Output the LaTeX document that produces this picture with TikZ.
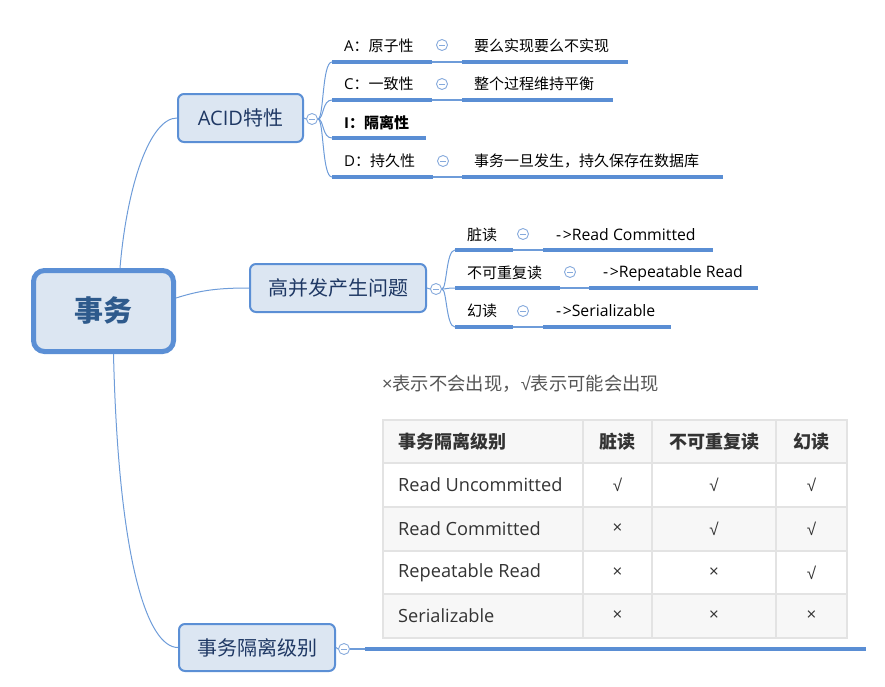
\documentclass[tikz,border=0pt]{standalone}
\usepackage{fontspec}
\setmainfont{Noto Sans CJK SC}
\newfontfamily\cjk{Noto Sans CJK SC}
\newfontfamily\osans{Open Sans}
\newfontfamily\lsans{Liberation Sans}
\newcommand{\ck}{{\lsans √}}
\newcommand{\cx}{{\osans ×}}
\definecolor{nodefill}{HTML}{DCE6F2}
\definecolor{nodeline}{HTML}{5B8FD5}
\definecolor{linkc}{HTML}{6E9CD9}
\definecolor{ulc}{HTML}{5A8ED4}
\definecolor{txtc}{HTML}{1F3864}
\definecolor{roottxt}{HTML}{2E5A8C}
\definecolor{foldc}{HTML}{86AADC}
\definecolor{tabline}{HTML}{E3E3E3}
\definecolor{tabfill}{HTML}{F7F7F7}
\definecolor{tabtxt}{HTML}{333333}
\definecolor{captxt}{HTML}{555555}
\begin{document}
\begin{tikzpicture}[x=1pt,y=-1pt,
  topic/.style={draw=nodeline, fill=nodefill, line width=2pt, rounded corners=6pt, inner sep=0pt, text=txtc, font=\fontsize{20}{23}\selectfont},
  rootbox/.style={topic, line width=5pt, rounded corners=11pt, text=roottxt, font=\fontsize{29}{33}\selectfont\bfseries},
  fold/.style={circle, draw=foldc, fill=white, line width=0.9pt, minimum size=11pt, inner sep=0pt,
    path picture={\draw[foldc, line width=0.9pt] ([xshift=-3pt]path picture bounding box.center) -- ([xshift=3pt]path picture bounding box.center);}},
  link/.style={draw=linkc, line width=1pt},
  uline/.style={draw=ulc, line width=3.5pt},
  thinl/.style={draw=linkc, line width=1.1pt},
  leaf/.style={anchor=west, inner sep=0pt, font=\fontsize{15}{18}\selectfont, text=black},
  latleaf/.style={leaf, font=\osans\fontsize{15.8}{18}\selectfont},
  tcell/.style={inner sep=0pt, font=\osans\fontsize{18.2}{21}\selectfont, text=tabtxt},
  thead/.style={inner sep=0pt, font=\cjk\fontsize{18}{21}\selectfont\bfseries, text=tabtxt},
  tmark/.style={inner sep=0pt, font=\fontsize{17}{20}\selectfont, text=tabtxt}
]
\useasboundingbox (0,0) rectangle (885,686);

% main topics
\node[rootbox, minimum width=140pt, minimum height=81pt] (root) at (103.5,311) {事务};
\node[topic, minimum width=125pt, minimum height=48pt] (acid) at (240.5,118) {{\osans ACID}特性};
\node[topic, minimum width=176pt, minimum height=48pt] (hb) at (338,288) {高并发产生问题};
\node[topic, minimum width=156pt, minimum height=47pt] (iso) at (257,647.5) {事务隔离级别};

% root connectors
\draw[link] (120,268) .. controls (127,185) and (150,118) .. (acid.west);
\draw[link] ([yshift=13pt]root.east) .. controls +(25,-8) and +(-30,0) .. (hb.west);
\draw[link] ([xshift=10pt]root.south) .. controls +(5,210) and +(-30,0) .. (iso.west);

% fold circles on topics
\node[fold] (facid) at (312,119) {};
\node[fold] (fhb) at (436,289) {};
\node[fold] (fiso) at (344,649) {};
\draw[link] (acid.east) -- (facid.west);
\draw[link] (hb.east) -- (fhb.west);
\draw[link] (iso.east) -- (fiso.west);

% ACID children
\coordinate (aL) at (332,62);
\coordinate (cL) at (332,100);
\coordinate (iL) at (332,138);
\coordinate (dL) at (332,177);
\foreach \t in {aL,cL,iL,dL}
  \draw[link] (facid.east) .. controls +(6,0) and +(-10,0) .. (\t);

\draw[uline] (aL) -- (432,62);
\draw[thinl] (432,62) -- (462,62);
\draw[uline] (462,62) -- (628,62);
\draw[uline] (cL) -- (432,100);
\draw[thinl] (432,100) -- (462,100);
\draw[uline] (462,100) -- (613,100);
\draw[uline] (iL) -- (426,138);
\draw[uline] (dL) -- (433,177);
\draw[thinl] (433,177) -- (462,177);
\draw[uline] (462,177) -- (723,177);

\node[leaf] (ta) at (344,46) {{\osans A}：原子性};
\node[fold] (fa) at (442,45) {};
\node[leaf] (ta2) at (474,46) {要么实现要么不实现};
\node[leaf] (tc) at (344,84) {{\osans C}：一致性};
\node[fold] (fc) at (442,84) {};
\node[leaf] (tc2) at (474,84) {整个过程维持平衡};
\node[leaf, font=\fontsize{15}{18}\selectfont\bfseries] (ti) at (344,123) {{\osans\bfseries I}：隔离性};
\node[leaf] (td) at (344,161) {{\osans D}：持久性};
\node[fold] (fd) at (443,161) {};
\node[leaf] (td2) at (474,161) {事务一旦发生，持久保存在数据库};

% concurrency children
\coordinate (pL) at (455,250);
\coordinate (qL) at (455,288);
\coordinate (rL) at (455,327);
\foreach \t in {pL,qL,rL}
  \draw[link] (fhb.east) .. controls +(5,0) and +(-9,0) .. (\t);

\draw[uline] (pL) -- (513,250);
\draw[thinl] (513,250) -- (543,250);
\draw[uline] (543,250) -- (713,250);
\draw[uline] (qL) -- (560,288);
\draw[thinl] (560,288) -- (589,288);
\draw[uline] (589,288) -- (758,288);
\draw[uline] (rL) -- (513,327);
\draw[thinl] (513,327) -- (543,327);
\draw[uline] (543,327) -- (671,327);

\node[leaf] (tp) at (467,235) {脏读};
\node[fold] (fp) at (523,234) {};
\node[latleaf] (tp2) at (556,235) {-\kern1.5pt>Read Committed};
\node[leaf] (tq) at (467,273) {不可重复读};
\node[fold] (fq) at (570,272) {};
\node[latleaf] (tq2) at (603,273) {-\kern1.5pt>Repeatable Read};
\node[leaf] (tr) at (467,311) {幻读};
\node[fold] (fr) at (523,311) {};
\node[latleaf] (tr2) at (556,311) {-\kern1.5pt>Serializable};

% isolation level branch
\draw[thinl] (fiso.east) -- (365,649);
\draw[uline] (365,649) -- (866,649);

% caption
\node[anchor=west, inner sep=0pt, text=captxt, font=\fontsize{18.3}{21}\selectfont] (cap) at (382,384) {\cx 表示不会出现，\ck 表示可能会出现};

% table
\fill[tabfill] (383,420) rectangle (847,463);
\fill[tabfill] (383,507) rectangle (847,551);
\fill[tabfill] (383,594) rectangle (847,638);
\draw[tabline, line width=1.5pt] (383,420) rectangle (847,638);
\foreach \yy in {463,507,551,594} \draw[tabline, line width=1.5pt] (383,\yy) -- (847,\yy);
\foreach \xx in {583,652,776} \draw[tabline, line width=1.5pt] (\xx,420) -- (\xx,638);

\node[thead, anchor=west] (h1) at (398,441.5) {事务隔离级别};
\node[thead] (h2) at (617.5,441.5) {脏读};
\node[thead] (h3) at (714,441.5) {不可重复读};
\node[thead] (h4) at (811.5,441.5) {幻读};

\node[tcell, anchor=west] (r1) at (398,485) {Read Uncommitted};
\node[tcell, anchor=west] (r2) at (398,529) {Read Committed};
\node[tcell, anchor=west] (r3) at (398,572.5) {Repeatable Read};
\node[tcell, anchor=west] (r4) at (398,616) {Serializable};

\node[tmark] (m11) at (617.5,485) {\ck};
\node[tmark] (m12) at (714,485) {\ck};
\node[tmark] (m13) at (811.5,485) {\ck};
\node[tmark] (m21) at (617.5,529) {\cx};
\node[tmark] (m22) at (714,529) {\ck};
\node[tmark] (m23) at (811.5,529) {\ck};
\node[tmark] (m31) at (617.5,572.5) {\cx};
\node[tmark] (m32) at (714,572.5) {\cx};
\node[tmark] (m33) at (811.5,572.5) {\ck};
\node[tmark] (m41) at (617.5,616) {\cx};
\node[tmark] (m42) at (714,616) {\cx};
\node[tmark] (m43) at (811.5,616) {\cx};
\end{tikzpicture}
\end{document}
